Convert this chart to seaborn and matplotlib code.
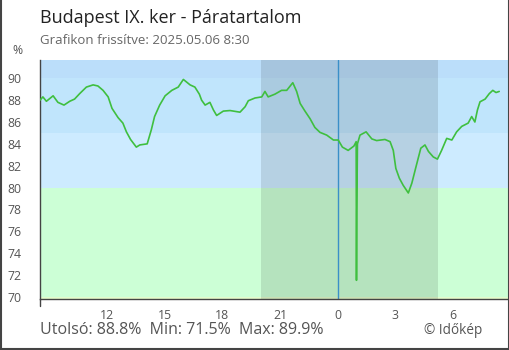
import matplotlib
matplotlib.use("Agg")
import matplotlib.pyplot as plt
import seaborn as sns
import pandas as pd
from matplotlib.lines import Line2D

sns.set_style("white")
plt.rcParams['font.family'] = ['Open Sans', 'DejaVu Sans']

# minutes since 2025-05-05 08:30
minutes = [0, 9, 20, 41, 56, 75, 93, 108, 124, 145, 166, 181, 197, 213, 225, 244,
           259, 270, 283, 301, 312, 335, 348, 358, 374, 391, 412, 432, 448, 469,
           484, 498, 505, 516, 531, 542, 552, 573, 594, 625, 641, 651, 672, 693,
           703, 713, 734, 755, 771, 790, 802, 813, 828, 844, 859, 875, 896, 917,
           932, 945, 963, 981, 988, 989, 990, 992, 1000, 1019, 1037, 1052, 1078,
           1094, 1104, 1112, 1123, 1135, 1151, 1162, 1175, 1190, 1203, 1214, 1229,
           1242, 1255, 1271, 1287, 1302, 1318, 1338, 1349, 1359, 1367, 1375, 1391,
           1404, 1415, 1425, 1435]
humidity = [88.0, 88.3, 87.9, 88.4, 87.8, 87.55, 87.9, 88.1, 88.6, 89.2, 89.4, 89.3,
            88.9, 88.3, 87.25, 86.4, 85.9, 85.1, 84.4, 83.7, 83.9, 84.0, 85.3, 86.5,
            87.55, 88.4, 88.9, 89.2, 89.9, 89.4, 89.2, 88.55, 88.0, 87.55, 87.8,
            87.1, 86.6, 87.0, 87.05, 86.9, 87.4, 87.95, 88.2, 88.3, 88.8, 88.3,
            88.55, 88.9, 88.9, 89.6, 88.8, 87.7, 87.0, 86.3, 85.5, 85.05, 84.8,
            84.35, 84.35, 83.7, 83.4, 83.8, 84.2, 71.5, 77.8, 84.0, 84.8, 85.1,
            84.45, 84.3, 84.4, 84.2, 83.4, 81.75, 80.85, 80.2, 79.5, 80.4, 81.9,
            83.6, 83.9, 83.3, 82.8, 82.6, 83.4, 84.5, 84.35, 85.1, 85.6, 85.9, 86.5,
            86.0, 87.1, 87.85, 88.1, 88.6, 88.9, 88.7, 88.8]

start_hour = -15.5          # 08:30 relative to midnight
night = (-4.0, 5.23)        # sunset / sunrise (hours relative to midnight)
xticks = [-12, -9, -6, -3, 0, 3, 6, 9]
xtick_labels = ["12", "15", "18", "21", "0", "3", "6", "9"]
yticks = list(range(70, 91, 2))

df = pd.DataFrame({"hour": [start_hour + m / 60 for m in minutes], "value": humidity})

W, H = 510, 350
fig = plt.figure(figsize=(W / 100, H / 100), dpi=100)
ax = fig.add_axes([40 / W, 1 - 299.3 / H, 470.4 / W, 239.3 / H])

ax.set_xlim(-15.5, 9.0)
ax.set_ylim(69.76, 91.68)

# background bands
ax.axhspan(90, 100, color="#bbdefa", lw=0, zorder=0)
ax.axhspan(85, 90, color="#c0e5fc", lw=0, zorder=0)
ax.axhspan(80, 85, color="#cdebff", lw=0, zorder=0)
ax.axhspan(70, 80, color="#ccffd6", lw=0, zorder=0)
ax.axhspan(60, 70, color="#e2fccc", lw=0, zorder=0)
ax.axvspan(night[0], night[1], color="black", alpha=0.11, lw=0, zorder=1)
ax.axvline(0, color="#3a8fc8", lw=1.0, zorder=2)

sns.lineplot(data=df, x="hour", y="value", ax=ax, color="#3fbf3f", lw=1.2, zorder=3)

ax.set_xlabel("")
ax.set_ylabel("")
ax.set_xticks(xticks)
ax.set_xticklabels(xtick_labels)
ax.set_yticks(yticks)
for s in ["top", "right"]:
    ax.spines[s].set_visible(False)
for s in ["left", "bottom"]:
    ax.spines[s].set_color("#444444")
    ax.spines[s].set_linewidth(1.0)
ax.tick_params(axis="y", direction="inout", length=9, width=1, color="#444444",
               labelsize=8.8, labelcolor="#555555", pad=9)
ax.tick_params(axis="x", direction="in", length=4.3, width=1, color="#444444",
               labelsize=8.8, labelcolor="#555555", pad=7)
ax.plot([0, 0], [0, -7 / 239.3], transform=ax.transAxes, color="#444444",
        lw=1.0, clip_on=False)

fig.text(40 / W, 1 - 18 / H, "Budapest IX. ker - Páratartalom", fontsize=13,
         color="#222222", va="center", ha="left")
fig.text(40 / W, 1 - 41 / H, "Grafikon frissítve: 2025.05.06 8:30", fontsize=9.5,
         color="#666666", va="center", ha="left")
fig.text(17.5 / W, 1 - 51 / H, "%", fontsize=8.8, color="#555555", va="center", ha="center")
fig.text(40 / W, 1 - 330 / H, "Utolsó: 88.8%  Min: 71.5%  Max: 89.9%", fontsize=11.5,
         color="#555555", va="center", ha="left")
fig.text(482 / W, 1 - 331 / H, "© Időkép", fontsize=9.8, color="#555555",
         va="center", ha="right")

# figure frame
for xs, ys in [([0.5 / W, 0.5 / W], [0, 1]), ([509 / W, 509 / W], [0, 1]),
               ([0, 1], [1.5 / H, 1.5 / H])]:
    fig.add_artist(Line2D(xs, ys, transform=fig.transFigure, color="#444444", lw=1.5))

fig.savefig("out.png", dpi=100)
